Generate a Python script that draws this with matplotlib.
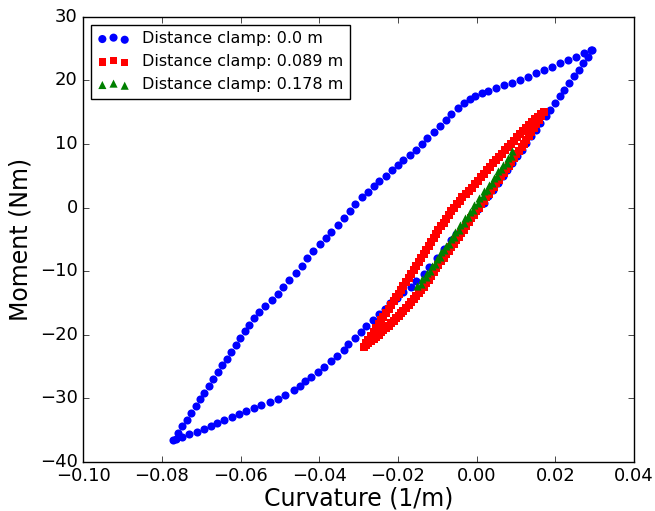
import matplotlib
matplotlib.use('Agg')
import matplotlib.pyplot as plt

plt.style.use('classic')

labels = ['Distance clamp: 0.0 m', 'Distance clamp: 0.089 m', 'Distance clamp: 0.178 m']

# clamp 0.0 m : loop (curvature 1/m, moment Nm)
blue_x = [-0.0771, -0.0760, -0.0748, -0.0737, -0.0726, -0.0714, -0.0703, -0.0692, -0.0680, -0.0669,
          -0.0658, -0.0646, -0.0635, -0.0624, -0.0612, -0.0601, -0.0590, -0.0578, -0.0567,
          -0.0552, -0.0537, -0.0521, -0.0506, -0.0491, -0.0476, -0.0460, -0.0445, -0.0430, -0.0415,
          -0.0399, -0.0384, -0.0369, -0.0353, -0.0338, -0.0323, -0.0308,
          -0.0292, -0.0277, -0.0262, -0.0247, -0.0231, -0.0216, -0.0201, -0.0186, -0.0170, -0.0155,
          -0.0140, -0.0125, -0.0109, -0.0094, -0.0079, -0.0064, -0.0048, -0.0033, -0.0018, -0.0003,
          0.0013, 0.0028,
          0.0048, 0.0069, 0.0089, 0.0109, 0.0130, 0.0150, 0.0170, 0.0191, 0.0211, 0.0231,
          0.0252, 0.0272, 0.0290, 0.0294,
          0.0283, 0.0271, 0.0259, 0.0247, 0.0235, 0.0223, 0.0211, 0.0199, 0.0187, 0.0175,
          0.0162, 0.0150, 0.0138, 0.0126, 0.0114, 0.0102, 0.0090, 0.0078, 0.0066, 0.0054,
          0.0042, 0.0030, 0.0018, 0.0004, -0.0010, -0.0024, -0.0038, -0.0052, -0.0066, -0.0084,
          -0.0102, -0.0120, -0.0135, -0.0153, -0.0168, -0.0186, -0.0203, -0.0219, -0.0234, -0.0249,
          -0.0264, -0.0280, -0.0295, -0.0310, -0.0326, -0.0338, -0.0356, -0.0371, -0.0389, -0.0404,
          -0.0420, -0.0435, -0.0450, -0.0465, -0.0486, -0.0506, -0.0526, -0.0547, -0.0567, -0.0587,
          -0.0605, -0.0623, -0.0641, -0.0659, -0.0676, -0.0694, -0.0712, -0.0730, -0.0748, -0.0763]
blue_y = [-36.54, -35.47, -34.41, -33.34, -32.28, -31.21, -30.14, -29.08, -28.01, -26.95,
          -25.88, -24.81, -23.75, -22.68, -21.62, -20.55, -19.48, -18.42, -17.35,
          -16.41, -15.46, -14.52, -13.58, -12.47, -11.37, -10.27, -9.17, -7.91, -6.81,
          -5.71, -4.77, -3.82, -2.72, -1.62, -0.52, 0.58,
          1.68, 2.47, 3.41, 4.20, 4.99, 5.93, 6.72, 7.50, 8.29, 9.08,
          10.02, 10.96, 11.91, 12.85, 13.80, 14.74, 15.68, 16.47, 17.10, 17.57,
          18.04, 18.36,
          18.83, 19.30, 19.62, 20.09, 20.56, 21.19, 21.66, 22.13, 22.76, 23.23,
          23.70, 24.33, 24.81, 24.80,
          23.76, 22.72, 21.67, 20.63, 19.58, 18.53, 17.49, 16.44, 15.40, 14.35,
          13.30, 12.26, 11.21, 10.17, 9.12, 8.07, 7.03, 5.98, 4.94, 3.89,
          2.84, 1.80, 0.75, -0.24, -1.20, -2.17, -3.15, -4.11, -5.08, -6.50,
          -7.91, -9.33, -10.43, -11.53, -12.47, -13.26, -14.20, -14.99, -15.93, -16.72,
          -17.66, -18.61, -19.55, -20.50, -21.44, -22.38, -23.33, -24.11, -25.06, -25.85,
          -26.63, -27.26, -28.05, -28.68, -29.46, -30.09, -30.56, -31.03, -31.50, -31.98,
          -32.45, -32.92, -33.39, -33.86, -34.33, -34.80, -35.28, -35.59, -36.07, -36.38]

# clamp 0.089 m : two cycles, loading side then unloading side
red_x = [-0.0287, -0.0275, -0.0262, -0.0249, -0.0237, -0.0224, -0.0211, -0.0198, -0.0186, -0.0173,
         -0.0160, -0.0147, -0.0135, -0.0122, -0.0109, -0.0097, -0.0084, -0.0071, -0.0058, -0.0046,
         -0.0033, -0.0020, -0.0008, 0.0005, 0.0018, 0.0031, 0.0043, 0.0056, 0.0069, 0.0081,
         0.0094, 0.0107, 0.0120, 0.0132, 0.0145, 0.0158, 0.0170,
         0.0155, 0.0140, 0.0125, 0.0109, 0.0094, 0.0079, 0.0064, 0.0048, 0.0033, 0.0018,
         0.0003, -0.0013, -0.0028, -0.0043, -0.0058, -0.0071, -0.0084, -0.0097, -0.0109, -0.0122,
         -0.0135, -0.0147, -0.0160, -0.0173, -0.0186, -0.0198, -0.0211, -0.0224, -0.0237, -0.0249,
         -0.0262, -0.0275,
         -0.0281, -0.0268, -0.0255, -0.0243, -0.0230, -0.0217, -0.0204, -0.0192, -0.0179, -0.0166,
         -0.0153, -0.0141, -0.0128, -0.0115, -0.0103, -0.0090, -0.0077, -0.0064, -0.0052, -0.0039,
         -0.0026, -0.0014, -0.0001, 0.0012, 0.0025, 0.0037, 0.0050, 0.0063, 0.0075, 0.0088,
         0.0101, 0.0114, 0.0126, 0.0139, 0.0152, 0.0164,
         0.0163, 0.0148, 0.0133, 0.0117, 0.0102, 0.0087, 0.0071, 0.0056, 0.0041, 0.0026,
         0.0011, -0.0005, -0.0020, -0.0036, -0.0051, -0.0065, -0.0078, -0.0091, -0.0103, -0.0116,
         -0.0129, -0.0141, -0.0154, -0.0167, -0.0180, -0.0192, -0.0205, -0.0218, -0.0231, -0.0243,
         -0.0256, -0.0269, -0.0281]
red_y = [-21.91, -21.28, -20.65, -20.02, -19.24, -18.61, -17.82, -17.04, -16.25, -15.31,
         -14.36, -13.42, -12.47, -11.37, -10.11, -9.01, -7.91, -6.81, -5.71, -4.61,
         -3.51, -2.25, -1.15, -0.05, 1.05, 2.16, 3.26, 4.36, 5.46, 6.56,
         7.82, 8.92, 10.02, 11.28, 12.54, 13.80, 15.05,
         14.27, 13.48, 12.54, 11.59, 10.49, 9.55, 8.45, 7.50, 6.40, 5.30,
         4.20, 3.10, 2.16, 1.05, -0.05, -1.15, -2.41, -3.51, -4.77, -6.02,
         -7.28, -8.54, -9.80, -11.06, -12.32, -13.57, -14.68, -15.93, -17.19, -18.29,
         -19.55, -20.81,
         -21.55, -20.92, -20.30, -19.60, -18.90, -18.18, -17.40, -16.62, -15.75, -14.80,
         -13.86, -12.92, -11.90, -10.72, -9.54, -8.44, -7.34, -6.24, -5.14, -4.04,
         -2.86, -1.68, -0.58, 0.52, 1.62, 2.72, 3.82, 4.92, 6.02, 7.20,
         8.38, 9.48, 10.66, 11.92, 13.18, 14.40,
         14.70, 13.88, 13.00, 12.06, 11.04, 10.02, 9.00, 7.98, 6.95, 5.85,
         4.75, 3.65, 2.63, 1.60, 0.50, -0.60, -1.78, -2.96, -4.14, -5.40,
         -6.65, -7.91, -9.17, -10.43, -11.69, -12.95, -14.12, -15.30, -16.56, -17.74,
         -18.92, -20.18, -21.36]

# clamp 0.178 m
green_x = [-0.0151, -0.0139, -0.0126, -0.0114, -0.0102, -0.0090, -0.0078, -0.0066, -0.0054, -0.0042,
           -0.0030, -0.0018, -0.0006, 0.0007, 0.0019, 0.0031, 0.0043, 0.0055, 0.0067, 0.0079, 0.0091,
           0.0088, 0.0076, 0.0063, 0.0051, 0.0039, 0.0027, 0.0015, 0.0003, -0.0009, -0.0021,
           -0.0033, -0.0045, -0.0057, -0.0070, -0.0082, -0.0094, -0.0106, -0.0118, -0.0130, -0.0142]
green_y = [-12.33, -11.27, -10.21, -9.15, -8.08, -7.02, -5.96, -4.90, -3.84, -2.77,
           -1.71, -0.65, 0.41, 1.47, 2.54, 3.60, 4.66, 5.72, 6.78, 7.85, 8.91,
           8.13, 7.07, 6.00, 4.94, 3.88, 2.82, 1.76, 0.69, -0.37, -1.43,
           -2.49, -3.55, -4.62, -5.68, -6.74, -7.80, -8.86, -9.92, -10.99, -12.05]

fig = plt.figure(figsize=(6.55, 5.11), dpi=100)
ax = fig.add_axes([0.127, 0.096, 0.841, 0.871])

ax.scatter(blue_x, blue_y, s=34, c='b', marker='o', linewidths=0, label=labels[0])
ax.scatter(red_x, red_y, s=26, c='r', marker='s', linewidths=0, label=labels[1])
ax.scatter(green_x, green_y, s=34, c='g', marker='^', linewidths=0, label=labels[2])

ax.set_xlim(-0.10, 0.04)
ax.set_ylim(-40, 30)
ax.set_xticks([-0.10, -0.08, -0.06, -0.04, -0.02, 0.00, 0.02, 0.04])
ax.set_yticks([-40, -30, -20, -10, 0, 10, 20, 30])
ax.tick_params(labelsize=13)
ax.set_xlabel('Curvature (1/m)', fontsize=17, labelpad=1)
ax.set_ylabel('Moment (Nm)', fontsize=17)
ax.legend(loc='upper left', fontsize=11.5, scatterpoints=3)

fig.savefig('out.png', dpi=100, facecolor='white')
